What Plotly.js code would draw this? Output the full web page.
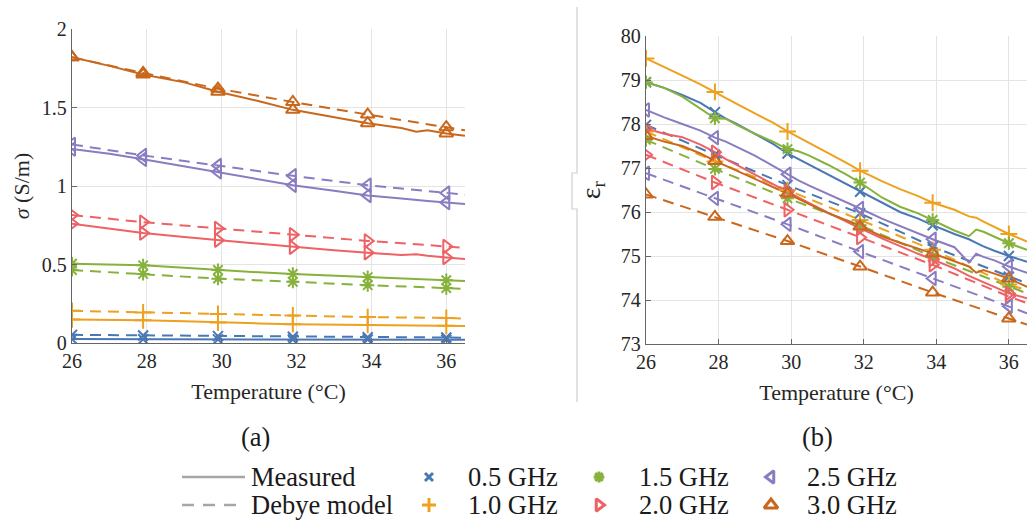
<!DOCTYPE html>
<html>
<head>
<meta charset="utf-8">
<script src="https://cdn.plot.ly/plotly-3.0.1.min.js"></script>
<style>
  html, body { margin: 0; padding: 0; background: #fff; }
  #chart { width: 1027px; height: 527px; }
</style>
</head>
<body>
<div id="chart"></div>
<script>
// ---- Data -----------------------------------------------------------
const freqLabels = ['0.5 GHz', '1.0 GHz', '1.5 GHz', '2.0 GHz', '2.5 GHz', '3.0 GHz'];

// Temperatures where markers are drawn (°C)
const markTemps = [26, 27.9, 29.9, 31.9, 33.9, 36];

// (a) conductivity, measured (S/m)
const sigmaTemps = [26, 27, 27.9, 29, 29.9, 31, 31.9, 33, 33.9, 34.8, 35.2, 35.5, 36, 36.5];
const sigmaMeas05 = [0.025, 0.025, 0.024, 0.024, 0.023, 0.023, 0.022, 0.022, 0.022, 0.021, 0.021, 0.021, 0.021, 0.020];
const sigmaMeas10 = [0.150, 0.148, 0.145, 0.138, 0.130, 0.125, 0.120, 0.118, 0.115, 0.112, 0.112, 0.110, 0.110, 0.108];
const sigmaMeas15 = [0.505, 0.500, 0.495, 0.480, 0.465, 0.450, 0.440, 0.430, 0.420, 0.415, 0.410, 0.405, 0.400, 0.395];
const sigmaMeas20 = [0.760, 0.730, 0.700, 0.675, 0.655, 0.630, 0.610, 0.590, 0.575, 0.560, 0.566, 0.556, 0.545, 0.535];
const sigmaMeas25 = [1.235, 1.205, 1.170, 1.125, 1.090, 1.045, 1.005, 0.970, 0.940, 0.920, 0.910, 0.905, 0.895, 0.885];
const sigmaMeas30 = [1.820, 1.765, 1.710, 1.660, 1.600, 1.540, 1.485, 1.440, 1.400, 1.370, 1.345, 1.355, 1.335, 1.320];

// (a) conductivity, Debye model (S/m)
const modelTemps = [26, 27.9, 29.9, 31.9, 33.9, 36, 36.5];
const sigmaModel05 = [0.052, 0.048, 0.044, 0.040, 0.037, 0.035, 0.034];
const sigmaModel10 = [0.205, 0.195, 0.185, 0.175, 0.165, 0.160, 0.155];
const sigmaModel15 = [0.465, 0.440, 0.410, 0.390, 0.368, 0.350, 0.345];
const sigmaModel20 = [0.815, 0.770, 0.730, 0.690, 0.650, 0.615, 0.605];
const sigmaModel25 = [1.265, 1.195, 1.130, 1.065, 1.005, 0.955, 0.945];
const sigmaModel30 = [1.820, 1.720, 1.620, 1.535, 1.455, 1.375, 1.355];

// (b) relative permittivity, measured
const epsTemps = [26, 26.5, 27, 27.5, 27.9, 28.2, 28.5, 29, 29.5, 29.9, 30.2, 30.5, 31, 31.5, 31.9,
                  32.5, 33, 33.5, 33.9, 34.5, 34.9, 35.1, 35.3, 35.6, 36, 36.5];
const epsMeas05 = [78.95, 78.82, 78.66, 78.48, 78.27, 78.12, 78.00, 77.78, 77.55, 77.33, 77.20, 77.07, 76.85, 76.65, 76.46,
                   76.20, 76.00, 75.85, 75.70, 75.50, 75.38, 75.30, 75.22, 75.12, 75.00, 74.87];
const epsMeas10 = [79.49, 79.30, 79.10, 78.90, 78.73, 78.60, 78.46, 78.24, 78.03, 77.83, 77.70, 77.56, 77.34, 77.13, 76.94,
                   76.70, 76.52, 76.36, 76.21, 76.05, 75.90, 75.87, 75.78, 75.66, 75.50, 75.33];
const epsMeas15 = [78.95, 78.82, 78.62, 78.34, 78.13, 78.12, 77.98, 77.78, 77.60, 77.43, 77.38, 77.28, 77.08, 76.86, 76.67,
                   76.33, 76.12, 75.97, 75.82, 75.58, 75.45, 75.60, 75.55, 75.44, 75.29, 75.14];
const epsMeas20 = [77.90, 77.78, 77.70, 77.53, 77.36, 77.20, 77.07, 76.85, 76.64, 76.46, 76.33, 76.20, 75.99, 75.80, 75.63,
                   75.40, 75.22, 75.05, 74.92, 74.72, 74.55, 74.48, 74.42, 74.30, 74.15, 74.04];
const epsMeas25 = [78.32, 78.15, 78.00, 77.85, 77.69, 77.60, 77.48, 77.28, 77.05, 76.86, 76.72, 76.60, 76.42, 76.24, 76.08,
                   75.85, 75.68, 75.52, 75.38, 75.20, 74.85, 75.05, 74.98, 74.90, 74.76, 74.62];
const epsMeas30 = [77.73, 77.60, 77.50, 77.33, 77.16, 77.05, 76.95, 76.75, 76.58, 76.42, 76.30, 76.18, 75.98, 75.82, 75.67,
                   75.45, 75.30, 75.17, 75.06, 74.88, 74.76, 74.62, 74.68, 74.60, 74.49, 74.30];

// (b) relative permittivity, Debye model
const epsModel05 = [77.98, 77.30, 76.61, 75.97, 75.21, 74.53, 74.38];
const epsModel10 = [77.83, 77.15, 76.50, 75.82, 75.14, 74.35, 74.22];
const epsModel15 = [77.64, 76.98, 76.31, 75.70, 74.98, 74.30, 74.15];
const epsModel20 = [77.30, 76.67, 76.05, 75.42, 74.80, 74.08, 73.93];
const epsModel25 = [76.88, 76.31, 75.72, 75.10, 74.49, 73.86, 73.70];
const epsModel30 = [76.40, 75.89, 75.34, 74.76, 74.17, 73.58, 73.44];

const sigmaMeas  = [sigmaMeas05, sigmaMeas10, sigmaMeas15, sigmaMeas20, sigmaMeas25, sigmaMeas30];
const sigmaModel = [sigmaModel05, sigmaModel10, sigmaModel15, sigmaModel20, sigmaModel25, sigmaModel30];
const epsMeas    = [epsMeas05, epsMeas10, epsMeas15, epsMeas20, epsMeas25, epsMeas30];
const epsModel   = [epsModel05, epsModel10, epsModel15, epsModel20, epsModel25, epsModel30];

// ---- Styles ---------------------------------------------------------
const colors  = ['#4A78B5', '#EDA11F', '#86B23C', '#EE6164', '#8A7CC0', '#C9681C'];
const symbols = ['x-thin-open', 'cross-thin-open', 'asterisk-open',
                 'triangle-right-open', 'triangle-left-open', 'triangle-up-open'];
const msizes  = [10, 12, 11, 12, 12, 12];
const FONT = '"Liberation Serif", "DejaVu Serif", serif';
const DASH = '11px,7px';
const W = 1027, H = 527;
const px = x => x / W;
const py = y => 1 - y / H;

// ---- Traces ---------------------------------------------------------
const traces = [];

function pick(temps, vals) {
  const xs = [], ys = [];
  temps.forEach((t, i) => { if (markTemps.includes(t)) { xs.push(t); ys.push(vals[i]); } });
  return { xs, ys };
}

function addSeries(temps, vals, k, xa, ya, dashed) {
  traces.push({
    x: temps, y: vals, xaxis: xa, yaxis: ya, type: 'scatter', mode: 'lines',
    line: { color: colors[k], width: 2, dash: dashed ? DASH : 'solid' },
    hoverinfo: 'skip', showlegend: false
  });
}
function addMarks(temps, vals, k, xa, ya) {
  const m = pick(temps, vals);
  traces.push({
    x: m.xs, y: m.ys, xaxis: xa, yaxis: ya, type: 'scatter', mode: 'markers',
    marker: { symbol: symbols[k], size: msizes[k], color: colors[k],
              line: { color: colors[k], width: 2 } },
    hoverinfo: 'skip', showlegend: false
  });
}

for (let k = 0; k < 6; k++) {
  addSeries(modelTemps, sigmaModel[k], k, 'x', 'y', true);
  addSeries(sigmaTemps, sigmaMeas[k], k, 'x', 'y', false);
  addSeries(modelTemps, epsModel[k], k, 'x2', 'y2', true);
  addSeries(epsTemps, epsMeas[k], k, 'x2', 'y2', false);
}
for (let k = 0; k < 6; k++) {
  addMarks(modelTemps, sigmaModel[k], k, 'x', 'y');
  addMarks(sigmaTemps, sigmaMeas[k], k, 'x', 'y');
  addMarks(modelTemps, epsModel[k], k, 'x2', 'y2');
  addMarks(epsTemps, epsMeas[k], k, 'x2', 'y2');
}

// ---- Shared legend (drawn on its own pixel-scaled axes) -------------
const legendLineX = [182, 245];
const legendRows = [477, 505];
traces.push({
  x: legendLineX, y: [legendRows[0], legendRows[0]], xaxis: 'x3', yaxis: 'y3',
  mode: 'lines', line: { color: '#a6a6a6', width: 2.5 }, hoverinfo: 'skip', showlegend: false
});
traces.push({
  x: legendLineX, y: [legendRows[1], legendRows[1]], xaxis: 'x3', yaxis: 'y3',
  mode: 'lines', line: { color: '#a6a6a6', width: 2.5, dash: '12px,9px' }, hoverinfo: 'skip', showlegend: false
});
const legendMarkX = [429, 429, 599, 599, 771, 771];
const legendTextX = [466, 466, 637, 637, 805, 805];
const legendSizes = [8, 10, 9, 11, 11, 12];
for (let k = 0; k < 6; k++) {
  traces.push({
    x: [legendMarkX[k]], y: [legendRows[k % 2]], xaxis: 'x3', yaxis: 'y3',
    mode: 'markers',
    marker: { symbol: symbols[k], size: legendSizes[k], color: colors[k],
              line: { color: colors[k], width: 3 } },
    hoverinfo: 'skip', showlegend: false
  });
}

const annotations = [];
function addText(text, x, y, size, anchor) {
  annotations.push({
    text: text, xref: 'paper', yref: 'paper', x: px(x), y: py(y),
    xanchor: anchor || 'left', yanchor: 'middle', showarrow: false,
    font: { family: FONT, size: size, color: '#1a1a1a' }
  });
}
addText('Measured', 249, legendRows[0], 26.5);
addText('Debye model', 249, legendRows[1], 26.5);
for (let k = 0; k < 6; k++) addText(freqLabels[k], legendTextX[k], legendRows[k % 2], 26.5);
addText('(a)', 255, 437, 26.5, 'center');
addText('(b)', 817, 437, 26.5, 'center');

// ---- Axes -----------------------------------------------------------
const tickFont = { family: FONT, size: 20, color: '#262626' };
const titleFont = { family: FONT, size: 22, color: '#262626' };
const common = {
  showline: true, linecolor: '#666', linewidth: 1.2,
  showgrid: true, gridcolor: '#e4e4e4', gridwidth: 1,
  zeroline: false, ticks: 'inside', ticklen: 5, tickcolor: '#666',
  tickfont: tickFont, fixedrange: true
};

const layout = {
  width: W, height: H,
  margin: { l: 0, r: 0, t: 0, b: 0 },
  paper_bgcolor: '#fff', plot_bgcolor: '#fff',
  showlegend: false,
  font: { family: FONT },
  xaxis: Object.assign({}, common, {
    domain: [px(72), px(465)], range: [26, 36.5], anchor: 'y',
    tickvals: [26, 28, 30, 32, 34, 36],
    title: { text: 'Temperature (°C)', font: titleFont, standoff: 12 }
  }),
  yaxis: Object.assign({}, common, {
    domain: [py(343), py(29)], range: [0, 2], anchor: 'x',
    tickvals: [0, 0.5, 1, 1.5, 2], ticktext: ['0', '0.5', '1', '1.5', '2'],
    title: { text: '<i>σ</i> (S/m)', font: titleFont, standoff: 6 }
  }),
  xaxis2: Object.assign({}, common, {
    domain: [px(646), 1], range: [26, 36.5], anchor: 'y2',
    tickvals: [26, 28, 30, 32, 34, 36],
    title: { text: 'Temperature (°C)', font: titleFont, standoff: 12 }
  }),
  yaxis2: Object.assign({}, common, {
    domain: [py(344), py(36)], range: [73, 80], anchor: 'x2',
    tickvals: [73, 74, 75, 76, 77, 78, 79, 80],
    title: { text: 'ε<sub>r</sub>', font: { family: FONT, size: 28, color: '#262626' }, standoff: 12 }
  }),
  xaxis3: { domain: [0, 1], range: [0, W], anchor: 'y3', visible: false, fixedrange: true },
  yaxis3: { domain: [0, py(421)], range: [H, 421], anchor: 'x3', visible: false, fixedrange: true },
  annotations: annotations,
  shapes: [{
    type: 'path', xref: 'paper', yref: 'paper',
    path: 'M' + px(577) + ',' + py(7) + ' L' + px(577) + ',' + py(173) + ' L' + px(572) + ',' + py(173) +
          ' L' + px(572) + ',' + py(209) + ' L' + px(577) + ',' + py(209) + ' L' + px(577) + ',' + py(402),
    line: { color: '#cfcfcf', width: 1.2 }
  }]
};

Plotly.newPlot('chart', traces, layout, { staticPlot: true, displayModeBar: false });
</script>
</body>
</html>
